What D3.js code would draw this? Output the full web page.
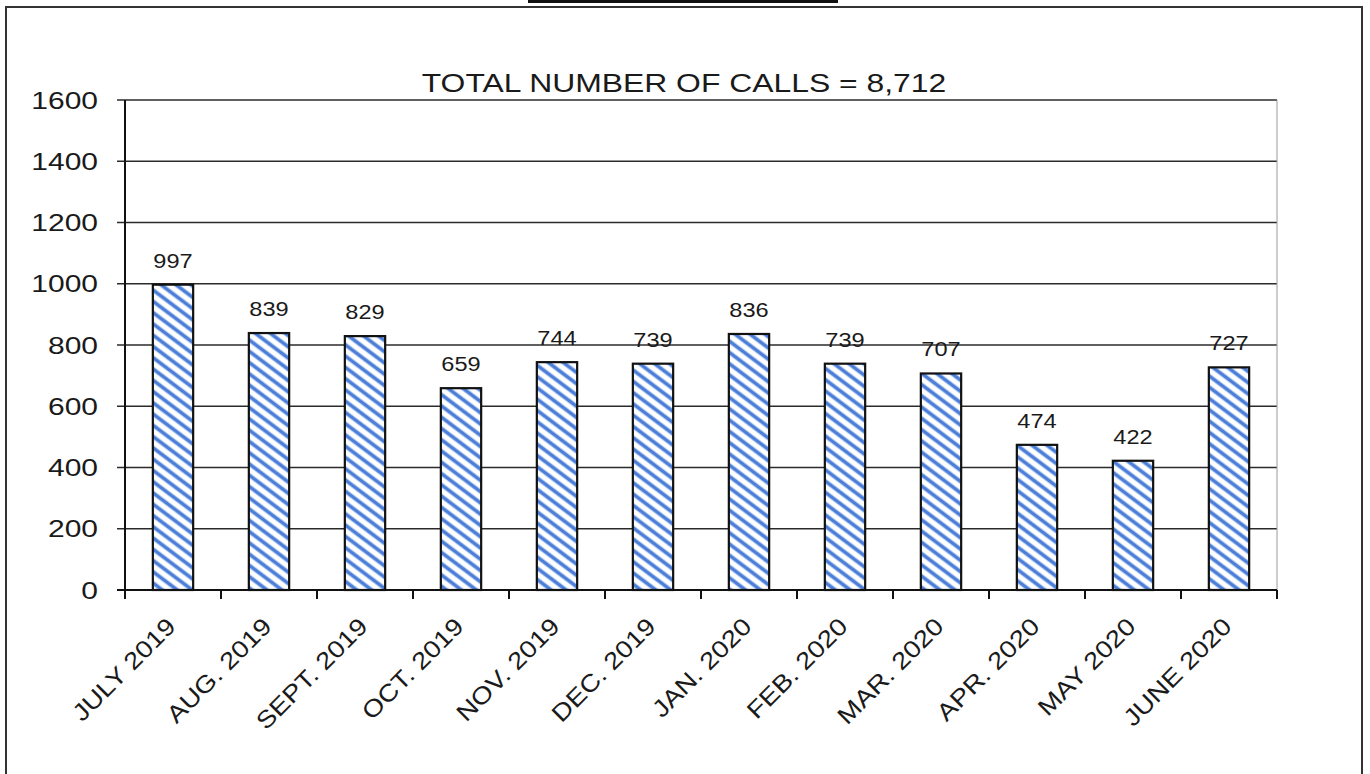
<html>
 <head>
  <title>Total number of calls</title>
  <script src="https://cdn.jsdelivr.net/npm/d3@7"></script>
  <style>
    body {
        margin: 0;
        background: #fff;
        font-family: "Liberation Sans", Arial, Helvetica, sans-serif;
    }
    svg text {
        fill: #1a1a1a;
    }
  </style>
 </head>
 <body>
  <div id="draw"></div>
  <script type="text/javascript">
    // data
    var months = ["JULY 2019", "AUG. 2019", "SEPT. 2019", "OCT. 2019", "NOV. 2019", "DEC. 2019",
                  "JAN. 2020", "FEB. 2020", "MAR. 2020", "APR. 2020", "MAY 2020", "JUNE 2020"];
    var calls = [997, 839, 829, 659, 744, 739, 836, 739, 707, 474, 422, 727];
    var yTicks = [0, 200, 400, 600, 800, 1000, 1200, 1400, 1600];
    var chartTitle = "TOTAL NUMBER OF CALLS = 8,712";

    var W = 1370, H = 774;
    // note: "top" is reserved on window, so plot edges get a prefix
    var plotL = 125, plotR = 1277, plotT = 100, plotB = 590;

    var svg = d3.select('#draw').append('svg').attr('width', W).attr('height', H);

    // striped fill
    var defs = svg.append('defs');
    var pat = defs.append('pattern')
      .attr('id', 'stripes')
      .attr('patternUnits', 'userSpaceOnUse')
      .attr('width', 20).attr('height', 9)
      .attr('patternTransform', 'rotate(37)');
    pat.append('rect').attr('width', 20).attr('height', 9).attr('fill', '#fff');
    pat.append('rect').attr('y', 2.2).attr('width', 20).attr('height', 4.6).attr('fill', '#aac4ef');
    pat.append('rect').attr('y', 3).attr('width', 20).attr('height', 3).attr('fill', '#4d7ed8');

    // cut-off heading underline and outer frame
    svg.append('rect').attr('x', 528).attr('y', 0).attr('width', 310).attr('height', 3).attr('fill', '#111');
    svg.append('rect').attr('x', 6).attr('y', 7).attr('width', 1356).attr('height', 790)
      .attr('fill', 'none').attr('stroke', '#333').attr('stroke-width', 2);

    var x = d3.scaleBand().domain(months).range([plotL, plotR]).padding(0);
    var y = d3.scaleLinear().domain([0, 1600]).range([plotB, plotT]);
    var barW = x.bandwidth() * 0.42;

    // gridlines
    svg.append('g').selectAll('line').data(yTicks.filter(function(d) { return d > 0; }))
      .enter().append('line')
      .attr('x1', plotL - 8).attr('x2', plotR)
      .attr('y1', function(d) { return y(d); }).attr('y2', function(d) { return y(d); })
      .attr('stroke', '#2b2b2b').attr('stroke-width', 1.3);

    // thin right edge of the plot
    svg.append('line').attr('x1', plotR).attr('x2', plotR).attr('y1', y(1600)).attr('y2', y(0))
      .attr('stroke', '#9a9a9a').attr('stroke-width', 1);

    // bars
    svg.append('g').selectAll('rect').data(calls).enter().append('rect')
      .attr('x', function(d, i) { return x(months[i]) + (x.bandwidth() - barW) / 2; })
      .attr('y', function(d) { return y(d); })
      .attr('width', barW)
      .attr('height', function(d) { return y(0) - y(d); })
      .attr('fill', 'url(#stripes)')
      .attr('stroke', '#111').attr('stroke-width', 2.2);

    // value labels
    svg.append('g').selectAll('text').data(calls).enter().append('text')
      .attr('transform', function(d, i) {
        return 'translate(' + (x(months[i]) + x.bandwidth() / 2) + ',' + (y(d) - 17) + ') scale(1.15,1)';
      })
      .attr('text-anchor', 'middle')
      .style('font-size', '20.5px')
      .text(function(d) { return d; });

    // y axis
    svg.append('line').attr('x1', plotL).attr('x2', plotL).attr('y1', y(1600)).attr('y2', y(0))
      .attr('stroke', '#111').attr('stroke-width', 2);
    svg.append('g').selectAll('text').data(yTicks).enter().append('text')
      .attr('transform', function(d) { return 'translate(98,' + y(d) + ') scale(1.25,1)'; })
      .attr('text-anchor', 'end')
      .attr('dy', '0.36em')
      .style('font-size', '24px')
      .text(function(d) { return d; });
    svg.append('line').attr('x1', plotL - 8).attr('x2', plotL).attr('y1', y(0)).attr('y2', y(0))
      .attr('stroke', '#111').attr('stroke-width', 2);

    // x axis with ticks between categories
    svg.append('line').attr('x1', plotL).attr('x2', plotR).attr('y1', y(0)).attr('y2', y(0))
      .attr('stroke', '#111').attr('stroke-width', 2.2);
    var bounds = months.map(function(m) { return x(m); }).concat([plotR]);
    svg.append('g').selectAll('line').data(bounds).enter().append('line')
      .attr('x1', function(d) { return d; }).attr('x2', function(d) { return d; })
      .attr('y1', y(0)).attr('y2', y(0) + 9)
      .attr('stroke', '#111').attr('stroke-width', 2);

    svg.append('g').selectAll('text').data(months).enter().append('text')
      .attr('transform', function(d) {
        return 'translate(' + (x(d) + x.bandwidth() / 2 + 4) + ',' + (y(0) + 38) + ') rotate(-45) scale(1.15,1)';
      })
      .attr('text-anchor', 'end')
      .style('font-size', '24px')
      .text(function(d) { return d; });

    // title
    svg.append('text')
      .attr('transform', 'translate(684,92) scale(1.25,1)')
      .attr('text-anchor', 'middle')
      .style('font-size', '25.5px')
      .text(chartTitle);
  </script>
 </body>
</html>
